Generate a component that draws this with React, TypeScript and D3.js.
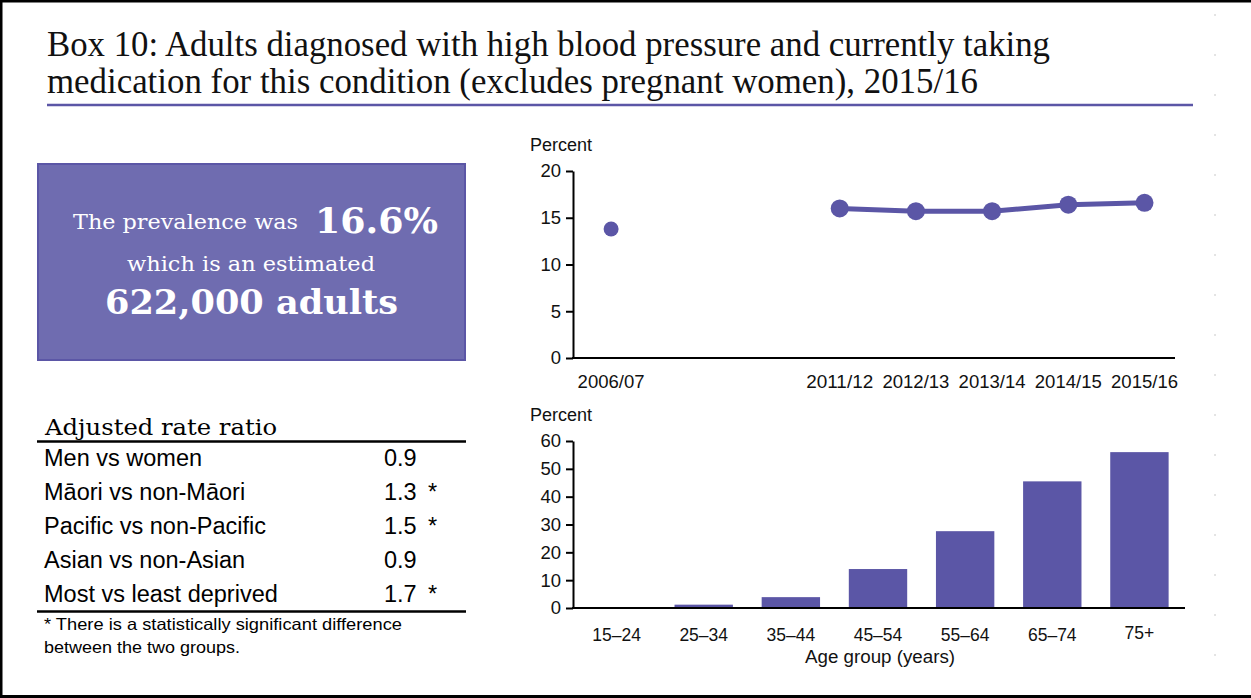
import React, { useRef, useEffect } from "react";
import * as d3 from "d3";

const width = 1251;
const height = 698;

const purple = "#5b56a6";
const boxFill = "#6f6cb0";
const sans = "'Liberation Sans', Arial, sans-serif";
const serif = "'DejaVu Serif', Georgia, serif";
const titleSerif = "'Liberation Serif', 'Times New Roman', serif";

const titleLines = [
  "Box 10: Adults diagnosed with high blood pressure and currently taking",
  "medication for this condition (excludes pregnant women), 2015/16",
];

// trend chart (survey years; 2006/07 sits three slots before 2011/12)
const trendYears = ["2006/07", "2011/12", "2012/13", "2013/14", "2014/15", "2015/16"];
const trendSlots = [0, 3, 4, 5, 6, 7];
const trendValues = [13.8, 16.0, 15.7, 15.7, 16.4, 16.6];
const trendTicks = [0, 5, 10, 15, 20];

// age group chart
const ageGroups = ["15–24", "25–34", "35–44", "45–54", "55–64", "65–74", "75+"];
const ageValues = [0.3, 1.2, 3.9, 14.0, 27.6, 45.5, 56.0];
const ageTicks = [0, 10, 20, 30, 40, 50, 60];

// adjusted rate ratios
const ratioLabels = [
  "Men vs women",
  "Māori vs non-Māori",
  "Pacific vs non-Pacific",
  "Asian vs non-Asian",
  "Most vs least deprived",
];
const ratioValues = ["0.9", "1.3", "1.5", "0.9", "1.7"];
const ratioSignificant = [false, true, true, false, true];

const footnote = ["* There is a statistically significant difference", "between the two groups."];

export default function App() {
  const ref = useRef<SVGSVGElement | null>(null);

  useEffect(() => {
    const svg = d3.select(ref.current);
    svg.selectAll("*").remove();

    svg.append("rect").attr("width", width).attr("height", height).attr("fill", "#fff");

    // frame (left, top, bottom)
    svg.append("path")
      .attr("d", `M1,0 V${height} M0,1 H${width} M0,${height - 1.5} H${width}`)
      .attr("stroke", "#000")
      .attr("stroke-width", 3)
      .attr("fill", "none");

    // faint dotted guide at right
    svg.append("line")
      .attr("x1", 1215).attr("x2", 1215).attr("y1", 14).attr("y2", 680)
      .attr("stroke", "#c8c8c8").attr("stroke-dasharray", "2,38");

    // title
    svg.selectAll("text.title")
      .data(titleLines)
      .enter()
      .append("text")
      .attr("class", "title")
      .attr("x", 47)
      .attr("y", (d, i) => 56 + i * 37)
      .attr("font-family", titleSerif)
      .attr("font-size", 36)
      .attr("textLength", (d, i) => (i === 0 ? 1003 : 931))
      .attr("lengthAdjust", "spacingAndGlyphs")
      .attr("fill", "#111")
      .text((d) => d);

    svg.append("line")
      .attr("x1", 47).attr("x2", 1193).attr("y1", 105).attr("y2", 105)
      .attr("stroke", purple).attr("stroke-width", 2.5);

    // prevalence box
    svg.append("rect")
      .attr("x", 38).attr("y", 164).attr("width", 427).attr("height", 196)
      .attr("fill", boxFill).attr("stroke", purple).attr("stroke-width", 2);

    const box = svg.append("g").attr("fill", "#fff").attr("font-family", serif);
    box.append("text").attr("x", 73).attr("y", 229).attr("font-size", 21)
      .attr("textLength", 225).attr("lengthAdjust", "spacingAndGlyphs").text("The prevalence was");
    box.append("text").attr("x", 315).attr("y", 233).attr("font-size", 36).attr("font-weight", "bold")
      .attr("textLength", 123).attr("lengthAdjust", "spacingAndGlyphs").text("16.6%");
    box.append("text").attr("x", 127).attr("y", 271).attr("font-size", 21)
      .attr("textLength", 248).attr("lengthAdjust", "spacingAndGlyphs").text("which is an estimated");
    box.append("text").attr("x", 105).attr("y", 314).attr("font-size", 34).attr("font-weight", "bold")
      .attr("textLength", 293).attr("lengthAdjust", "spacingAndGlyphs").text("622,000 adults");

    // rate ratio table
    const table = svg.append("g").attr("fill", "#000");
    table.append("text").attr("x", 45).attr("y", 435).attr("font-family", serif).attr("font-size", 22)
      .attr("textLength", 232).attr("lengthAdjust", "spacingAndGlyphs").text("Adjusted rate ratio");
    table.append("line").attr("x1", 37).attr("x2", 466).attr("y1", 441.5).attr("y2", 441.5)
      .attr("stroke", "#000").attr("stroke-width", 2.5);
    table.append("line").attr("x1", 37).attr("x2", 466).attr("y1", 611.5).attr("y2", 611.5)
      .attr("stroke", "#000").attr("stroke-width", 2.5);

    const rowY = d3.scaleBand().domain(ratioLabels).range([441, 611]);
    const rows = table.selectAll("g.row").data(ratioLabels).enter().append("g")
      .attr("class", "row")
      .attr("transform", (d) => `translate(0,${rowY(d)! + rowY.bandwidth() / 2 + 8})`)
      .attr("font-family", sans).attr("font-size", 23.5);
    rows.append("text").attr("x", 44).text((d) => d);
    rows.append("text").attr("x", 384).text((d, i) => ratioValues[i]);
    rows.append("text").attr("x", 428).text((d, i) => (ratioSignificant[i] ? "*" : ""));

    table.append("g").attr("font-family", sans).attr("font-size", 16.5)
      .selectAll("text")
      .data(footnote)
      .enter().append("text")
      .attr("x", 44).attr("y", (d, i) => 630 + i * 23)
      .attr("textLength", (d, i) => (i === 0 ? 358 : 196))
      .attr("lengthAdjust", "spacingAndGlyphs")
      .text((d) => d);

    // trend chart
    const xT = d3.scaleLinear().domain([-0.5, 7.4]).range([573, 1175]);
    const yT = d3.scaleLinear().domain([0, 20]).range([358, 171]);
    const trend = svg.append("g");
    trend.append("text").attr("x", 530).attr("y", 151).attr("font-family", sans).attr("font-size", 18)
      .attr("fill", "#111").text("Percent");
    const yAxisT = trend.append("g").attr("transform", "translate(573,0)")
      .call(d3.axisLeft(yT).tickValues(trendTicks).tickSize(7).tickSizeOuter(0).tickPadding(5));
    yAxisT.selectAll("text").attr("font-family", sans).attr("font-size", 18.5).attr("fill", "#111");
    yAxisT.selectAll("line").attr("stroke", "#000").attr("stroke-width", 2);
    yAxisT.select(".domain").attr("stroke", "#000").attr("stroke-width", 2);
    trend.append("line").attr("x1", 572).attr("x2", 1175).attr("y1", yT(0)).attr("y2", yT(0))
      .attr("stroke", "#000").attr("stroke-width", 2);
    trend.selectAll("text.xlab").data(trendYears).enter().append("text")
      .attr("class", "xlab")
      .attr("x", (d, i) => xT(trendSlots[i]))
      .attr("y", 388)
      .attr("text-anchor", "middle")
      .attr("font-family", sans).attr("font-size", 18).attr("fill", "#111")
      .attr("textLength", 67).attr("lengthAdjust", "spacingAndGlyphs")
      .text((d) => d);

    const line = d3.line<number>()
      .defined((d, i) => i > 0)
      .x((d, i) => xT(trendSlots[i]))
      .y((d) => yT(d));
    trend.append("path").datum(trendValues).attr("d", line)
      .attr("fill", "none").attr("stroke", purple).attr("stroke-width", 5);
    trend.selectAll("circle").data(trendValues).enter().append("circle")
      .attr("cx", (d, i) => xT(trendSlots[i]))
      .attr("cy", (d) => yT(d))
      .attr("r", (d, i) => (i === 0 ? 7.5 : 9))
      .attr("fill", purple);

    // age group chart
    const xA = d3.scaleBand().domain(ageGroups).range([573, 1183]).paddingInner(0.33).paddingOuter(0.165);
    const yA = d3.scaleLinear().domain([0, 60]).range([608, 441]);
    const age = svg.append("g");
    age.append("text").attr("x", 530).attr("y", 421).attr("font-family", sans).attr("font-size", 18)
      .attr("fill", "#111").text("Percent");
    age.selectAll("rect").data(ageValues).enter().append("rect")
      .attr("x", (d, i) => xA(ageGroups[i])!)
      .attr("y", (d) => yA(d))
      .attr("width", xA.bandwidth())
      .attr("height", (d) => yA(0) - yA(d))
      .attr("fill", purple);
    const yAxisA = age.append("g").attr("transform", "translate(573,0)")
      .call(d3.axisLeft(yA).tickValues(ageTicks).tickSize(7).tickSizeOuter(0).tickPadding(5));
    yAxisA.selectAll("text").attr("font-family", sans).attr("font-size", 18.5).attr("fill", "#111");
    yAxisA.selectAll("line").attr("stroke", "#000").attr("stroke-width", 2);
    yAxisA.select(".domain").attr("stroke", "#000").attr("stroke-width", 2);
    age.append("line").attr("x1", 572).attr("x2", 1185).attr("y1", yA(0)).attr("y2", yA(0))
      .attr("stroke", "#000").attr("stroke-width", 2);
    age.selectAll("text.xlab").data(ageGroups).enter().append("text")
      .attr("class", "xlab")
      .attr("x", (d) => xA(d)! + xA.bandwidth() / 2)
      .attr("y", (d) => (d === "75+" ? 639 : 641))
      .attr("text-anchor", "middle")
      .attr("font-family", sans).attr("font-size", 17.5).attr("fill", "#111")
      .text((d) => d);
    age.append("text").attr("x", 880).attr("y", 663).attr("text-anchor", "middle")
      .attr("font-family", sans).attr("font-size", 17.5).attr("fill", "#111")
      .attr("textLength", 150).attr("lengthAdjust", "spacingAndGlyphs")
      .text("Age group (years)");
  }, []);

  return (
    <div style={{ position: "absolute", left: 0, top: 0 }}>
      <style>{`body{margin:0}`}</style>
      <svg ref={ref} width={width} height={height} style={{ display: "block" }} />
    </div>
  );
}
